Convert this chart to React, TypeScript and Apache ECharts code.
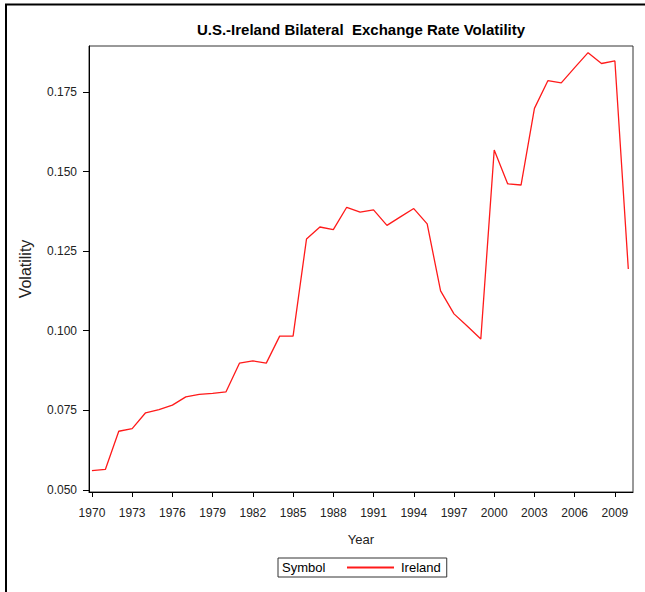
import React, { useEffect, useRef } from "react";
import * as echarts from "echarts";

const years = [
  1970, 1971, 1972, 1973, 1974, 1975, 1976, 1977, 1978, 1979,
  1980, 1981, 1982, 1983, 1984, 1985, 1986, 1987, 1988, 1989,
  1990, 1991, 1992, 1993, 1994, 1995, 1996, 1997, 1998, 1999,
  2000, 2001, 2002, 2003, 2004, 2005, 2006, 2007, 2008, 2009, 2010,
];
const irelandVolatility = [
  0.0560, 0.0564, 0.0684, 0.0692, 0.0742, 0.0752, 0.0766, 0.0792, 0.0800, 0.0803,
  0.0808, 0.0898, 0.0905, 0.0898, 0.0983, 0.0983, 0.1288, 0.1326, 0.1318, 0.1388,
  0.1373, 0.1380, 0.1331, 0.1358, 0.1384, 0.1336, 0.1125, 0.1053, 0.1014, 0.0974,
  0.1568, 0.1462, 0.1458, 0.1699, 0.1786, 0.1779, 0.1827, 0.1874, 0.1840, 0.1848, 0.1194,
];
const xTickValues = [1970, 1973, 1976, 1979, 1982, 1985, 1988, 1991, 1994, 1997, 2000, 2003, 2006, 2009];
const yTickValues = [0.05, 0.075, 0.1, 0.125, 0.15, 0.175];

const FONT = "'Liberation Sans Narrow', 'Arial Narrow', 'Liberation Sans', Arial, sans-serif";
const LINE_COLOR = "#ff1a1a";

export default function App() {
  const ref = useRef<HTMLDivElement>(null);
  useEffect(() => {
    if (!ref.current) return;
    const chart = echarts.init(ref.current, null, { renderer: "svg" });
    const data = years.map((y, i) => [y, irelandVolatility[i]]);
    chart.setOption({
      animation: false,
      backgroundColor: "#fff",
      title: {
        text: "U.S.-Ireland Bilateral  Exchange Rate Volatility",
        left: 361,
        textAlign: "center",
        top: 22,
        padding: 0,
        textStyle: { fontFamily: FONT, fontWeight: "bold", fontSize: 15, color: "#000" },
      },
      grid: {
        left: 89,
        right: 12,
        top: 46,
        bottom: 100,
        show: true,
        borderColor: "#333",
        borderWidth: 1,
        backgroundColor: "transparent",
        containLabel: false,
        outerBoundsMode: "none",
      },
      legend: {
        left: 278,
        top: 558,
        orient: "horizontal",
        borderColor: "#333",
        borderWidth: 1,
        padding: [3, 6, 3, 69],
        itemWidth: 47,
        itemHeight: 2,
        textStyle: { fontFamily: FONT, fontSize: 13, color: "#000", padding: [0, 0, 0, 2] },
        data: [{ name: "Ireland", icon: "rect", itemStyle: { color: LINE_COLOR } }],
      },
      graphic: [
        {
          type: "text",
          left: 282,
          top: 561,
          style: { text: "Symbol", font: "13px " + FONT, fill: "#000" },
        },
        {
          type: "polyline",
          shape: { points: [[6, 592], [6, 4.5], [645, 4.5]] },
          style: { stroke: "#000", lineWidth: 2, fill: "none" },
        },
      ],
      xAxis: {
        type: "value",
        min: 1969.78,
        max: 2010.35,
        name: "Year",
        nameLocation: "middle",
        nameGap: 41,
        nameTextStyle: { fontFamily: FONT, fontSize: 13, color: "#222" },
        axisLine: { show: true, onZero: false, lineStyle: { color: "#000", width: 1 } },
        axisTick: { show: true, length: 5, customValues: xTickValues, lineStyle: { color: "#000" } },
        axisLabel: {
          customValues: xTickValues,
          margin: 15,
          fontFamily: FONT,
          fontSize: 12,
          color: "#222",
          formatter: (v: number) => String(Math.round(v)),
        },
        splitLine: { show: false },
      },
      yAxis: {
        type: "value",
        min: 0.0493,
        max: 0.1895,
        name: "Volatility",
        nameLocation: "middle",
        nameGap: 56,
        nameTextStyle: { fontFamily: FONT, fontSize: 16, color: "#222" },
        axisLine: { show: true, onZero: false, lineStyle: { color: "#000", width: 1 } },
        axisTick: { show: true, length: 6, customValues: yTickValues, lineStyle: { color: "#000" } },
        axisLabel: {
          customValues: yTickValues,
          margin: 12,
          fontFamily: FONT,
          fontSize: 12,
          color: "#222",
          formatter: (v: number) => v.toFixed(3),
        },
        splitLine: { show: false },
      },
      series: [
        {
          name: "Ireland",
          type: "line",
          data,
          showSymbol: false,
          symbol: "none",
          lineStyle: { color: LINE_COLOR, width: 1.3 },
          itemStyle: { color: LINE_COLOR },
        },
      ],
    });
    return () => chart.dispose();
  }, []);
  return (
    <div
      ref={ref}
      style={{ position: "absolute", left: 0, top: 0, width: 645, height: 592 }}
    />
  );
}
